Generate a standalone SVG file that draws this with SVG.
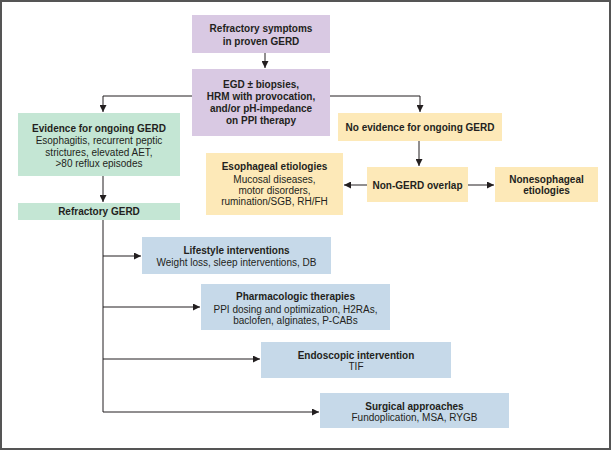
<svg xmlns="http://www.w3.org/2000/svg" width="612" height="451" viewBox="0 0 612 451">
<style>
.frame{fill:#fff;stroke:#555;stroke-width:2}
.purple{fill:#d9c9e3}
.green{fill:#c4e6d4}
.yellow{fill:#fde9b8}
.blue{fill:#c6d9e9}
text{font-family:"Liberation Sans",Arial,sans-serif;font-size:10px;fill:#231f20;text-anchor:middle}
.b{font-weight:bold}
.conn{fill:none;stroke:#231f20;stroke-width:1}
</style>
<defs>
<marker id="ah" markerWidth="7" markerHeight="7" refX="7" refY="3.5" orient="auto" markerUnits="userSpaceOnUse">
<path d="M0,0 L7,3.5 L0,7 z" fill="#231f20"/>
</marker>
</defs>
<rect class="frame" x="1" y="1" width="609" height="448"/>
<g id="connectors">
<path class="conn" d="M265,53 V68" marker-end="url(#ah)"/>
<path class="conn" d="M192,96 H103 V112" marker-end="url(#ah)"/>
<path class="conn" d="M330,96 H420 V112" marker-end="url(#ah)"/>
<path class="conn" d="M103,176 V202" marker-end="url(#ah)"/>
<path class="conn" d="M419,141 V166" marker-end="url(#ah)"/>
<path class="conn" d="M367,185 H344" marker-end="url(#ah)"/>
<path class="conn" d="M468,185 H494" marker-end="url(#ah)"/>
<path class="conn" d="M103,220 V412"/>
<path class="conn" d="M103,256 H141" marker-end="url(#ah)"/>
<path class="conn" d="M103,307 H200" marker-end="url(#ah)"/>
<path class="conn" d="M103,359 H260" marker-end="url(#ah)"/>
<path class="conn" d="M103,412 H319" marker-end="url(#ah)"/>
</g>
<g id="n-refractory-symptoms">
<rect class="purple" x="192" y="15" width="138" height="38"/>
<text class="b" x="261" y="32">Refractory symptoms</text>
<text class="b" x="261" y="45">in proven GERD</text>
</g>
<g id="n-egd">
<rect class="purple" x="192" y="69" width="138" height="67"/>
<text class="b" x="261" y="88">EGD ± biopsies,</text>
<text class="b" x="261" y="100">HRM with provocation,</text>
<text class="b" x="261" y="112">and/or pH-impedance</text>
<text class="b" x="261" y="124">on PPI therapy</text>
</g>
<g id="n-evidence">
<rect class="green" x="18" y="113" width="162" height="63"/>
<text class="b" x="99" y="132">Evidence for ongoing GERD</text>
<text x="99" y="144">Esophagitis, recurrent peptic</text>
<text x="99" y="155.5">strictures, elevated AET,</text>
<text x="99" y="167">&gt;80 reflux episodes</text>
</g>
<g id="n-refractory-gerd">
<rect class="green" x="18" y="203" width="162" height="17"/>
<text class="b" x="99" y="215">Refractory GERD</text>
</g>
<g id="n-no-evidence">
<rect class="yellow" x="338" y="113" width="164" height="28"/>
<text class="b" x="420" y="130.5">No evidence for ongoing GERD</text>
</g>
<g id="n-esophageal">
<rect class="yellow" x="206" y="153" width="137" height="62"/>
<text class="b" x="274.5" y="170">Esophageal etiologies</text>
<text x="274.5" y="182.5">Mucosal diseases,</text>
<text x="274.5" y="193.5">motor disorders,</text>
<text x="274.5" y="204.5">rumination/SGB, RH/FH</text>
</g>
<g id="n-non-gerd">
<rect class="yellow" x="367" y="167" width="101" height="35"/>
<text class="b" x="417.5" y="188.5">Non-GERD overlap</text>
</g>
<g id="n-nonesophageal">
<rect class="yellow" x="495" y="167" width="103" height="35"/>
<text class="b" x="546.5" y="182.5">Nonesophageal</text>
<text class="b" x="546.5" y="194">etiologies</text>
</g>
<g id="n-lifestyle">
<rect class="blue" x="142" y="237" width="189" height="37"/>
<text class="b" x="236.5" y="254">Lifestyle interventions</text>
<text x="236.5" y="266">Weight loss, sleep interventions, DB</text>
</g>
<g id="n-pharmacologic">
<rect class="blue" x="201" y="284" width="189" height="46"/>
<text class="b" x="295.5" y="300">Pharmacologic therapies</text>
<text x="295.5" y="312.5">PPI dosing and optimization, H2RAs,</text>
<text x="295.5" y="323.5">baclofen, alginates, P-CABs</text>
</g>
<g id="n-endoscopic">
<rect class="blue" x="261" y="342" width="190" height="36"/>
<text class="b" x="356" y="358.5">Endoscopic intervention</text>
<text x="356" y="370">TIF</text>
</g>
<g id="n-surgical">
<rect class="blue" x="320" y="393" width="189" height="35"/>
<text class="b" x="414.5" y="409.5">Surgical approaches</text>
<text x="414.5" y="421">Fundoplication, MSA, RYGB</text>
</g>
</svg>
